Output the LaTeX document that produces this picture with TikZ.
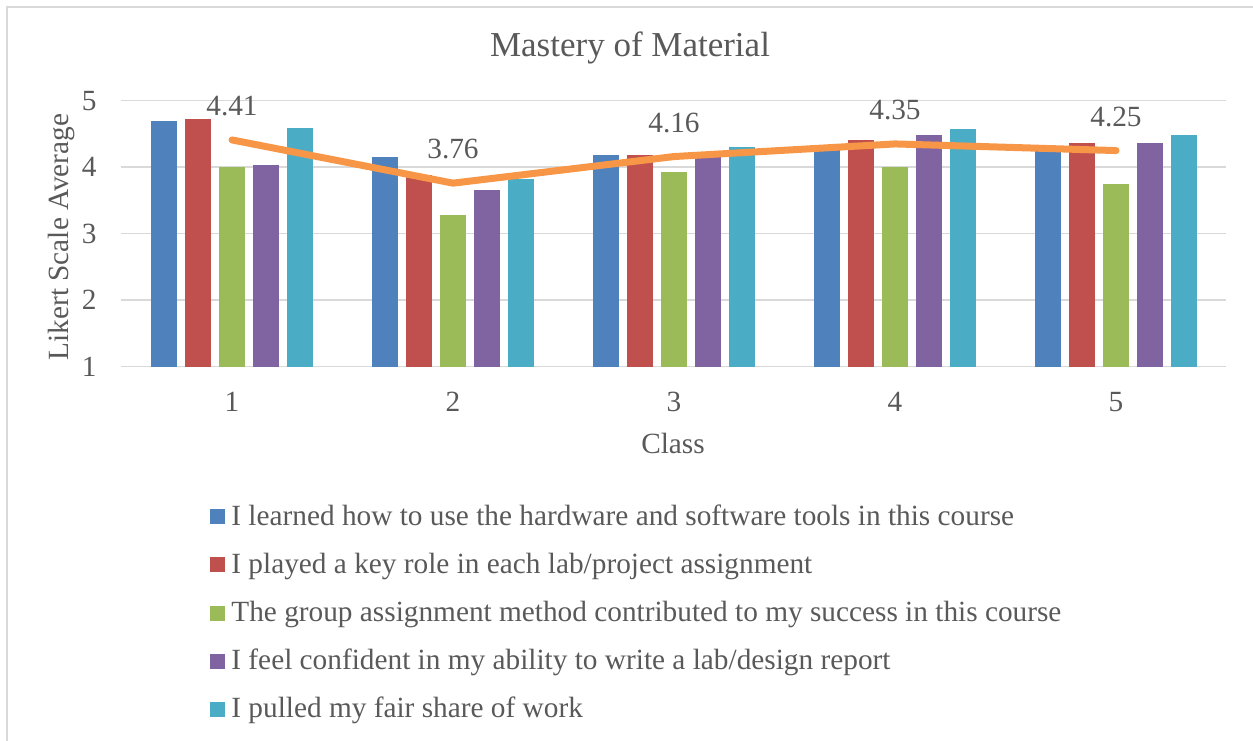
\documentclass[tikz,border=0pt]{standalone}
\usepackage{fontspec}
\setmainfont{Liberation Serif}
\usepackage{xcolor}
\usepackage{tikz}
\usetikzlibrary{positioning}

\definecolor{txtgray}{HTML}{595959}
\definecolor{gridgray}{HTML}{D9D9D9}
\definecolor{serA}{HTML}{4F81BD}
\definecolor{serB}{HTML}{C0504D}
\definecolor{serC}{HTML}{9BBB59}
\definecolor{serD}{HTML}{8064A2}
\definecolor{serE}{HTML}{4BACC6}
\definecolor{avgorange}{HTML}{F79646}

\tikzset{
  lbl/.style={text=txtgray, inner sep=0pt, font=\fontsize{14.65}{17}\selectfont},
  gridline/.style={draw=gridgray, line width=0.75pt},
  avgline/.style={draw=avgorange, line width=3.5pt, line cap=round, line join=round},
}

\begin{document}
\begin{tikzpicture}[x=0.5pt,y=0.5pt]
    \clip (0,0) rectangle (1253,740);
    \draw[gridgray, line width=1pt] (7,733) rectangle (1280,-20);
    \node[lbl, anchor=base, font=\fontsize{17.5}{20}\selectfont] (title) at (630,683) {Mastery of Material};
    \node[lbl, anchor=base, rotate=90] (ytitle) at (68,503) {Likert Scale Average};
    \node[lbl] (xtitle) at (673,297) {Class};
    % value axis: 1 at y=373.3, one unit = 66.5
    \begin{scope}[yshift=153.4pt, y=33.25pt]
        \foreach \v in {1,...,5}{
            \draw[gridline] (121,\v) -- (1226,\v);
            \node[lbl, anchor=east] (tick\v) at (97,\v) {\v};
        }
        \foreach \c/\a/\b/\g/\p/\q in {1/4.69/4.73/4.00/4.04/4.59,
                                        2/4.15/3.89/3.28/3.66/3.82,
                                        3/4.18/4.18/3.93/4.22/4.30,
                                        4/4.27/4.41/4.00/4.49/4.57,
                                        5/4.27/4.37/3.74/4.37/4.49}{
            \pgfmathsetmacro{\xc}{232+221*(\c-1)}
            \fill[serA] (\xc-81,1) rectangle (\xc-54.7,\a);
            \fill[serB] (\xc-47.1,1) rectangle (\xc-20.8,\b);
            \fill[serC] (\xc-13.15,1) rectangle (\xc+13.15,\g);
            \fill[serD] (\xc+20.8,1) rectangle (\xc+47.1,\p);
            \fill[serE] (\xc+54.7,1) rectangle (\xc+81,\q);
        }
        % class averages
        \coordinate (avg1) at (232,4.41);
        \coordinate (avg2) at (453,3.76);
        \coordinate (avg3) at (674,4.16);
        \coordinate (avg4) at (895,4.35);
        \coordinate (avg5) at (1116,4.25);
        \draw[avgline] (avg1) -- (avg2) -- (avg3) -- (avg4) -- (avg5);
        \node[lbl] (val1) at ([yshift=17pt]avg1) {4.41};
        \node[lbl] (val2) at ([yshift=17pt]avg2) {3.76};
        \node[lbl] (val3) at ([yshift=17pt]avg3) {4.16};
        \node[lbl] (val4) at ([yshift=17pt]avg4) {4.35};
        \node[lbl] (val5) at ([yshift=17pt]avg5) {4.25};
    \end{scope}
    \foreach \c in {1,...,5}{
        \pgfmathsetmacro{\xc}{232+221*(\c-1)}
        \node[lbl] (cat\c) at (\xc,338) {\c};
    }
    % legend
    \foreach \col/\ry/\txt in {serA/223.3/{I learned how to use the hardware and software tools in this course},
                               serB/175.2/{I played a key role in each lab/project assignment},
                               serC/127.0/{The group assignment method contributed to my success in this course},
                               serD/78.9/{I feel confident in my ability to write a lab/design report},
                               serE/30.7/{I pulled my fair share of work}}{
        \fill[\col] (210,\ry-7.5) rectangle (225,\ry+7.5);
        \node[lbl, anchor=base west] (leg\col) at (231,\ry-8.5) {\txt};
    }
\end{tikzpicture}
\end{document}
